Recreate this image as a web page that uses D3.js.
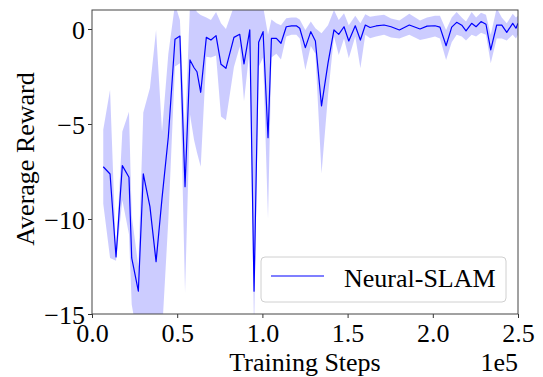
<!DOCTYPE html>
<html>
<head>
<meta charset="utf-8">
<script src="https://cdn.jsdelivr.net/npm/d3@7"></script>
<style>
  body { margin: 0; background: #fff; }
  svg text { font-family: "Liberation Serif", Tinos, "Times New Roman", Times, "DejaVu Serif", serif; }
</style>
</head>
<body>
<div id="chart"></div>
<script>
// training steps at each logged point
const steps = [
  6600, 10600, 14100, 17800, 21700, 23300, 27200, 30100, 34000, 37600,
  41100, 44800, 48700, 51600, 54600, 57500, 59900, 61600, 63800, 67100,
  69800, 72800, 75700, 78600, 83300, 86700, 89200, 92600, 95100, 97800,
  100400, 103300, 105300, 108200, 110900, 114000, 117100, 119900, 121900, 125200,
  128400, 131100, 134700, 138500, 142000, 144800, 147900, 150700, 154500, 157500,
  160400, 163200, 166700, 171400, 175500, 180400, 186200, 192500, 196600, 201300,
  204200, 207800, 211100, 214000, 217000, 219500, 222800, 225400, 228300, 231200,
  234000, 237500, 240500, 243400, 246900, 248800, 250000,
];
// mean reward
const meanReward = [
  -7.25, -7.63, -12.0, -7.19, -7.8, -12.05, -13.8, -7.63, -9.35, -12.25,
  -8.9, -5.67, -0.54, -0.37, -8.3, -1.63, -2.04, -2.25, -3.33, -0.44,
  -0.58, -0.35, -1.86, -2.07, -0.44, -0.28, -1.84, -0.05, -13.8, -0.7,
  -0.14, -5.72, -0.49, -0.49, -0.75, 0.12, 0.16, 0.17, 0.04, -0.98,
  -0.14, -0.63, -4.05, -1.8, -0.05, -0.28, 0.12, -0.63, 0.17, -0.58,
  0.21, 0.08, 0.16, 0.21, 0.12, -0.05, 0.21, 0.0, 0.15, 0.17,
  0.1, -0.88, 0.1, 0.35, 0.2, -0.1, 0.3, 0.12, 0.39, 0.25,
  -1.1, 0.21, 0.2, -0.18, 0.3, 0.04, 0.3,
];
// lower edge of shaded band
const lowerReward = [
  -9.2, -12.05, -12.2, -9.0, -10.8, -14.5, -16.5, -15.2, -16, -17,
  -16, -10.05, -1.98, -1.8, -13.9, -4.5, -5.84, -6.5, -7.25, -1.46,
  -1.5, -1.4, -4.6, -4.8, -2.0, -0.93, -3.8, -1.0, -16, -2.0,
  -1.5, -10.0, -1.5, -1.3, -1.6, -0.4, -0.3, -0.3, -0.5, -2.16,
  -0.9, -1.3, -7.6, -3.5, -0.4, -1.37, -0.5, -1.54, -0.4, -2.07,
  -0.3, -0.49, -0.4, -0.3, -0.45, -0.5, -0.3, -0.58, -0.5, -0.4,
  -0.5, -1.63, -0.7, -0.3, -0.4, -0.6, -0.3, -0.4, -0.2, -0.3,
  -1.8, -0.5, -0.5, -0.6, -0.3, -0.5, -0.3,
];
// upper edge of shaded band
const upperReward = [
  -5.3, -3.2, -11.8, -5.4, -4.35, -9.8, -12.5, -4.4, -3.1, -0.05,
  -5.4, -1.3, 1.3, 0.47, -5.5, 1.3, 1.2, 0.9, 0.74, 0.6,
  0.47, 0.9, 0.3, 0.0, 1.2, 1.2, 1.0, 1.2, 1.2, 1.2,
  1.2, -0.3, 0.5, 0.3, 0.2, 0.56, 0.6, 0.6, 0.5, -0.05,
  0.4, 0.04, -0.23, 0.2, 1.0, 0.47, 0.83, 0.2, 0.7, 0.3,
  0.77, 0.65, 0.7, 0.75, 0.55, 0.45, 0.8, 0.45, 0.6, 0.7,
  0.7, -0.05, 0.6, 0.9, 0.6, 0.4, 0.9, 0.6, 0.85, 0.75,
  -0.3, 1.1, 0.6, 0.3, 0.8, 0.6, 0.7,
];
const xTicks = [0, 50000, 100000, 150000, 200000, 250000];
const yTicks = [0, -5, -10, -15];
const seriesName = "Neural-SLAM";

const data = steps.map((s, i) => ({
  step: s,
  mean: meanReward[i],
  lo: lowerReward[i],
  hi: upperReward[i],
}));

const fontSize = "26px";
const margin = { top: 10, right: 25, bottom: 63, left: 92 };
const totalW = 543;
const totalH = 377;
const width = totalW - margin.left - margin.right;
const height = totalH - margin.top - margin.bottom;

const x = d3.scaleLinear().domain([0, 250000]).range([0, width]);
const y = d3.scaleLinear().domain([-15, 1]).range([height, 0]);

const svg = d3
  .select("#chart")
  .append("svg")
  .attr("width", totalW)
  .attr("height", totalH);

svg
  .append("defs")
  .append("clipPath")
  .attr("id", "plot-clip")
  .append("rect")
  .attr("width", width)
  .attr("height", height);

const g = svg
  .append("g")
  .attr("transform", `translate(${margin.left},${margin.top})`);

const plot = g.append("g").attr("clip-path", "url(#plot-clip)");

plot
  .append("path")
  .datum(data)
  .attr("fill", "#0000ff")
  .attr("fill-opacity", 0.2)
  .attr(
    "d",
    d3
      .area()
      .x((d) => x(d.step))
      .y0((d) => y(d.lo))
      .y1((d) => y(d.hi))
  );

plot
  .append("path")
  .datum(data)
  .attr("fill", "none")
  .attr("stroke", "#0000ff")
  .attr("stroke-width", 1.2)
  .attr("stroke-linejoin", "round")
  .attr(
    "d",
    d3
      .line()
      .x((d) => x(d.step))
      .y((d) => y(d.mean))
  );

// axes
const xAxisGroup = g
  .append("g")
  .attr("transform", `translate(0,${height})`)
  .call(
    d3
      .axisBottom(x)
      .tickValues(xTicks)
      .tickFormat((d) => (d / 1e5).toFixed(1))
      .tickSize(4)
      .tickSizeOuter(0)
  );

const yAxisGroup = g.append("g").call(
  d3
    .axisLeft(y)
    .tickValues(yTicks)
    .tickFormat((d) => (d < 0 ? "\u2212" + Math.abs(d) : d))
    .tickSize(4)
    .tickSizeOuter(0)
);

[xAxisGroup, yAxisGroup].forEach((ax) => {
  ax.attr("font-family", null).attr("font-size", null);
  ax.select(".domain").remove();
  ax.selectAll(".tick line").attr("stroke", "#333").attr("stroke-width", 1);
  ax.selectAll(".tick text").attr("fill", "#000").style("font-size", fontSize);
});
xAxisGroup.selectAll(".tick text").attr("y", 10).attr("dy", "0.71em");
yAxisGroup.selectAll(".tick text").attr("x", -7).attr("dy", "0.35em");

// frame
g.append("rect")
  .attr("width", width)
  .attr("height", height)
  .attr("fill", "none")
  .attr("stroke", "#444")
  .attr("stroke-width", 1);

// labels
g.append("text")
  .attr("x", width / 2)
  .attr("y", height + 57)
  .attr("text-anchor", "middle")
  .style("font-size", fontSize)
  .text("Training Steps");

g.append("text")
  .attr("x", width)
  .attr("y", height + 57)
  .attr("text-anchor", "end")
  .style("font-size", fontSize)
  .text("1e5");

g.append("text")
  .attr("transform", `translate(${-58},${height / 2 - 3}) rotate(-90)`)
  .attr("text-anchor", "middle")
  .style("font-size", fontSize)
  .text("Average Reward");

// legend
const legend = g
  .append("g")
  .attr("transform", `translate(${169},${247})`);

legend
  .append("rect")
  .attr("width", 245)
  .attr("height", 45)
  .attr("rx", 4)
  .attr("fill", "#fff")
  .attr("fill-opacity", 0.8)
  .attr("stroke", "#d0d0d0");

legend
  .append("line")
  .attr("x1", 10)
  .attr("x2", 63)
  .attr("y1", 19)
  .attr("y2", 19)
  .attr("stroke", "#0000ff")
  .attr("stroke-width", 1.2);

legend
  .append("text")
  .attr("x", 83)
  .attr("y", 30)
  .style("font-size", fontSize)
  .text(seriesName);
</script>
</body>
</html>
